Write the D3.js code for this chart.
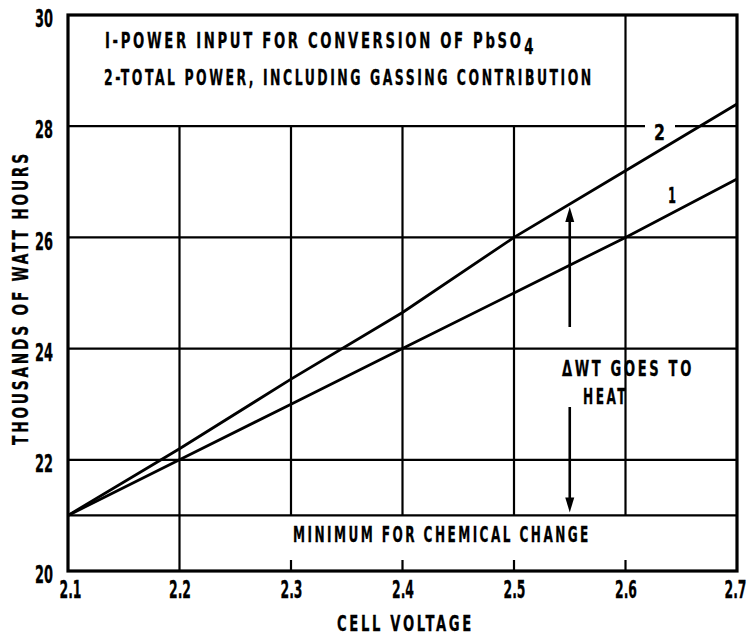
<!DOCTYPE html>
<html><head><meta charset="utf-8">
<script src="https://cdn.jsdelivr.net/npm/d3@7"></script>
<style>
html,body{margin:0;padding:0;background:#fff;}
svg{display:block;}
text{font-family:"DejaVu Sans Condensed","DejaVu Sans",sans-serif;font-weight:bold;fill:#000;stroke:#000;stroke-width:0.3px;}
</style></head>
<body><svg id="c" width="750" height="635"></svg>
<script>
const voltage = [2.1, 2.2, 2.3, 2.4, 2.5, 2.6, 2.7];
const powerConversion = [21, 22, 23, 24, 25, 26, 27.05];
const totalPower = [21, 22.2, 23.45, 24.65, 26.0, 27.2, 28.4];
const xTicks = [2.1, 2.2, 2.3, 2.4, 2.5, 2.6, 2.7];
const yTicks = [20, 22, 24, 26, 28, 30];
const minimumLevel = 21;
const legendLines = ["I-POWER INPUT FOR CONVERSION OF PbSO", "2-TOTAL POWER, INCLUDING GASSING CONTRIBUTION"];
const arrowVoltage = 2.55;

const svg = d3.select("#c");
const x = d3.scaleLinear().domain([2.1, 2.7]).range([68, 737]);
const y = d3.scaleLinear().domain([20, 30]).range([571, 15]);
const g = svg.append("g");
const black = "#000";

// place text at (px,py), scaled horizontally to a target width
function fitText(parent, px, py, str, width, opts) {
  opts = opts || {};
  const t = parent.append("text").attr("font-size", opts.fs || 22)
    .attr("letter-spacing", opts.ls == null ? 4 : opts.ls).text(str);
  if (opts.sub) {
    t.append("tspan").attr("dy", 6).attr("dx", 1).attr("letter-spacing", 0).text(opts.sub);
  }
  const w = t.node().getComputedTextLength();
  const s = width / w;
  t.attr("transform", `translate(${px},${py})${opts.rot ? " rotate(" + opts.rot + ")" : ""} scale(${s},1)`);
  return t;
}

// horizontal grid lines
[22, 24, 26].forEach(v => {
  g.append("line").attr("x1", x(2.1)).attr("x2", x(2.7)).attr("y1", y(v)).attr("y2", y(v))
    .attr("stroke", black).attr("stroke-width", 2.2);
});
g.append("line").attr("x1", x(2.1)).attr("x2", x(2.7)).attr("y1", y(minimumLevel)).attr("y2", y(minimumLevel))
  .attr("stroke", black).attr("stroke-width", 2.4);
// 28 line with gap for label "2"
g.append("line").attr("x1", x(2.1)).attr("x2", 645).attr("y1", y(28)).attr("y2", y(28)).attr("stroke", black).attr("stroke-width", 2.2);
g.append("line").attr("x1", 675).attr("x2", x(2.7)).attr("y1", y(28)).attr("y2", y(28)).attr("stroke", black).attr("stroke-width", 2.2);

// vertical grid lines
[2.2, 2.3, 2.4, 2.5, 2.6].forEach(v => {
  const top = v === 2.6 ? 30 : 28;
  const bottom = v === 2.2 ? 20 : minimumLevel;
  g.append("line").attr("x1", x(v)).attr("x2", x(v)).attr("y1", y(top)).attr("y2", y(bottom))
    .attr("stroke", black).attr("stroke-width", 2.2);
  if (v !== 2.2) {
    g.append("line").attr("x1", x(v)).attr("x2", x(v)).attr("y1", y(20)).attr("y2", y(20) - 11)
      .attr("stroke", black).attr("stroke-width", 2.2);
  }
});

// frame
g.append("rect").attr("x", x(2.1)).attr("y", y(30)).attr("width", x(2.7) - x(2.1)).attr("height", y(20) - y(30))
  .attr("fill", "none").attr("stroke", black).attr("stroke-width", 3.2);

// data lines
const line = d3.line().x((d, i) => x(voltage[i])).y(d => y(d));
g.append("path").datum(powerConversion).attr("d", line).attr("fill", "none").attr("stroke", black).attr("stroke-width", 2.8);
g.append("path").datum(totalPower).attr("d", line).attr("fill", "none").attr("stroke", black).attr("stroke-width", 2.8);

// curve labels
fitText(g, 654, 140, "2", 11, {ls: 0});
fitText(g, 668, 203, "1", 8, {ls: 0});

// axes labels
const xAxis = d3.axisBottom(x).tickValues(xTicks).tickSize(0).tickPadding(0).tickFormat(d3.format(".1f"));
const xa = svg.append("g").attr("transform", `translate(0,${y(20) + 10})`).call(xAxis);
xa.select(".domain").remove();
xa.selectAll("text").attr("font-family", null).attr("dy", "0.72em").attr("font-size", 24)
  .each(function(d) {
    const w = this.getComputedTextLength();
    const dx = d === 2.7 ? -2 : (d === 2.1 ? 2 : 0);
    d3.select(this).attr("transform", `translate(${dx},0) scale(${22 / w},1)`);
  });
const yAxis = d3.axisLeft(y).tickValues(yTicks).tickSize(0).tickPadding(0).tickFormat(d3.format("d"));
const ya = svg.append("g").attr("transform", `translate(53,4)`).call(yAxis);
ya.select(".domain").remove();
ya.selectAll("text").attr("font-family", null).attr("font-size", 24)
  .each(function() {
    const w = this.getComputedTextLength();
    d3.select(this).attr("transform", `scale(${18 / w},1)`);
  });

fitText(svg, 337, 631, "CELL VOLTAGE", 137);
fitText(svg, 28, 445, "THOUSANDS OF WATT HOURS", 294, {rot: -90});

// legend
fitText(svg, 105, 48, legendLines[0], 428, {sub: "4"});
fitText(svg, 104, 85, legendLines[1], 490);

// minimum label
fitText(svg, 293, 542, "MINIMUM FOR CHEMICAL CHANGE", 298);

// delta annotation
fitText(svg, 562, 376, "\u0394WT GOES TO", 132);
fitText(svg, 583, 404, "HEAT", 45);

// arrows
const ax = x(arrowVoltage);
const upTip = y(d3.interpolateNumber(totalPower[4], totalPower[5])(0.5)) + 3;
const downTip = y(minimumLevel) - 3;
g.append("line").attr("x1", ax).attr("x2", ax).attr("y1", 327).attr("y2", upTip + 10).attr("stroke", black).attr("stroke-width", 2.6);
g.append("path").attr("d", `M${ax},${upTip} L${ax - 4.5},${upTip + 15} L${ax + 4.5},${upTip + 15} Z`).attr("fill", black);
g.append("line").attr("x1", ax).attr("x2", ax).attr("y1", 407).attr("y2", downTip - 10).attr("stroke", black).attr("stroke-width", 2.6);
g.append("path").attr("d", `M${ax},${downTip} L${ax - 4.5},${downTip - 15} L${ax + 4.5},${downTip - 15} Z`).attr("fill", black);
</script></body></html>
